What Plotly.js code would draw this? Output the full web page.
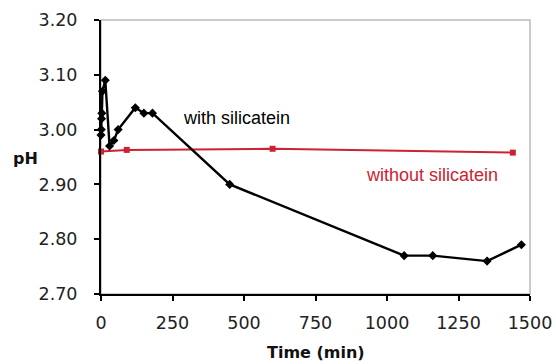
<!DOCTYPE html>
<html>
<head>
<meta charset="utf-8">
<script src="https://cdn.plot.ly/plotly-3.0.1.min.js"></script>
<style>html,body{margin:0;padding:0;background:#fff;}#chart{width:556px;height:364px;}</style>
</head>
<body>
<div id="chart"></div>
<script>
const withTime = [0, 1, 2, 3, 5, 15, 30, 45, 60, 120, 150, 180, 450, 1060, 1160, 1350, 1470];
const withPH   = [2.99, 3.00, 3.02, 3.03, 3.07, 3.09, 2.97, 2.98, 3.00, 3.04, 3.03, 3.03, 2.90, 2.77, 2.77, 2.76, 2.79];
const withoutTime = [0, 90, 600, 1440];
const withoutPH   = [2.96, 2.963, 2.965, 2.958];
const xTicks = [0, 250, 500, 750, 1000, 1250, 1500];
const yTicks = [2.70, 2.80, 2.90, 3.00, 3.10, 3.20];

const red = '#cc2231';
const traces = [
  {x: withoutTime, y: withoutPH, mode: 'lines+markers', name: 'without silicatein',
   line: {color: red, width: 2}, marker: {symbol: 'square', size: 6, color: red}, cliponaxis: false},
  {x: withTime, y: withPH, mode: 'lines+markers', name: 'with silicatein',
   line: {color: '#000', width: 2.4}, marker: {symbol: 'diamond', size: 7, color: '#000'}, cliponaxis: false}
];
const tickFont = {family: 'DejaVu Sans, Verdana, sans-serif', size: 17.5, color: '#222'};
const titleFont = {family: 'DejaVu Sans, Verdana, sans-serif', size: 16, color: '#111'};
const layout = {
  width: 556, height: 364,
  margin: {l: 101, r: 26, t: 20, b: 70},
  paper_bgcolor: '#fff', plot_bgcolor: '#fff',
  showlegend: false,
  xaxis: {
    range: [0, 1500], tickvals: xTicks, ticktext: xTicks.map(String),
    showgrid: false, zeroline: false, showline: true, linecolor: '#000', linewidth: 2,
    ticks: 'outside', ticklen: 5, tickwidth: 2, tickcolor: '#000',
    tickfont: tickFont, ticklabelstandoff: 7
  },
  yaxis: {
    range: [2.7, 3.2], tickvals: yTicks, ticktext: yTicks.map(v => v.toFixed(2)),
    showgrid: false, zeroline: false, showline: true, linecolor: '#000', linewidth: 2,
    ticks: 'outside', ticklen: 5, tickwidth: 2, tickcolor: '#000',
    tickfont: tickFont, ticklabelstandoff: 13
  },
  shapes: [{type: 'rect', xref: 'paper', yref: 'paper', x0: 0, x1: 1, y0: 0, y1: 1,
    line: {color: '#bbbbbb', width: 1.5}, layer: 'below'}],
  annotations: [
    {x: 474, y: 3.021, xref: 'x', yref: 'y', text: 'with silicatein', showarrow: false,
     font: {family: 'Liberation Sans, Arial, sans-serif', size: 18, color: '#000'}},
    {x: 1157, y: 2.917, xref: 'x', yref: 'y', text: 'without silicatein', showarrow: false,
     font: {family: 'Liberation Sans, Arial, sans-serif', size: 18, color: red}},
    {x: -0.176, y: 0.496, xref: 'paper', yref: 'paper', xanchor: 'center', yanchor: 'middle',
     text: '<b>pH</b>', showarrow: false, font: titleFont},
    {x: 0.501, y: -0.215, xref: 'paper', yref: 'paper', xanchor: 'center', yanchor: 'middle',
     text: '<b>Time (min)</b>', showarrow: false, font: titleFont}
  ]
};
Plotly.newPlot('chart', traces, layout, {displayModeBar: false, staticPlot: true});
</script>
</body>
</html>
